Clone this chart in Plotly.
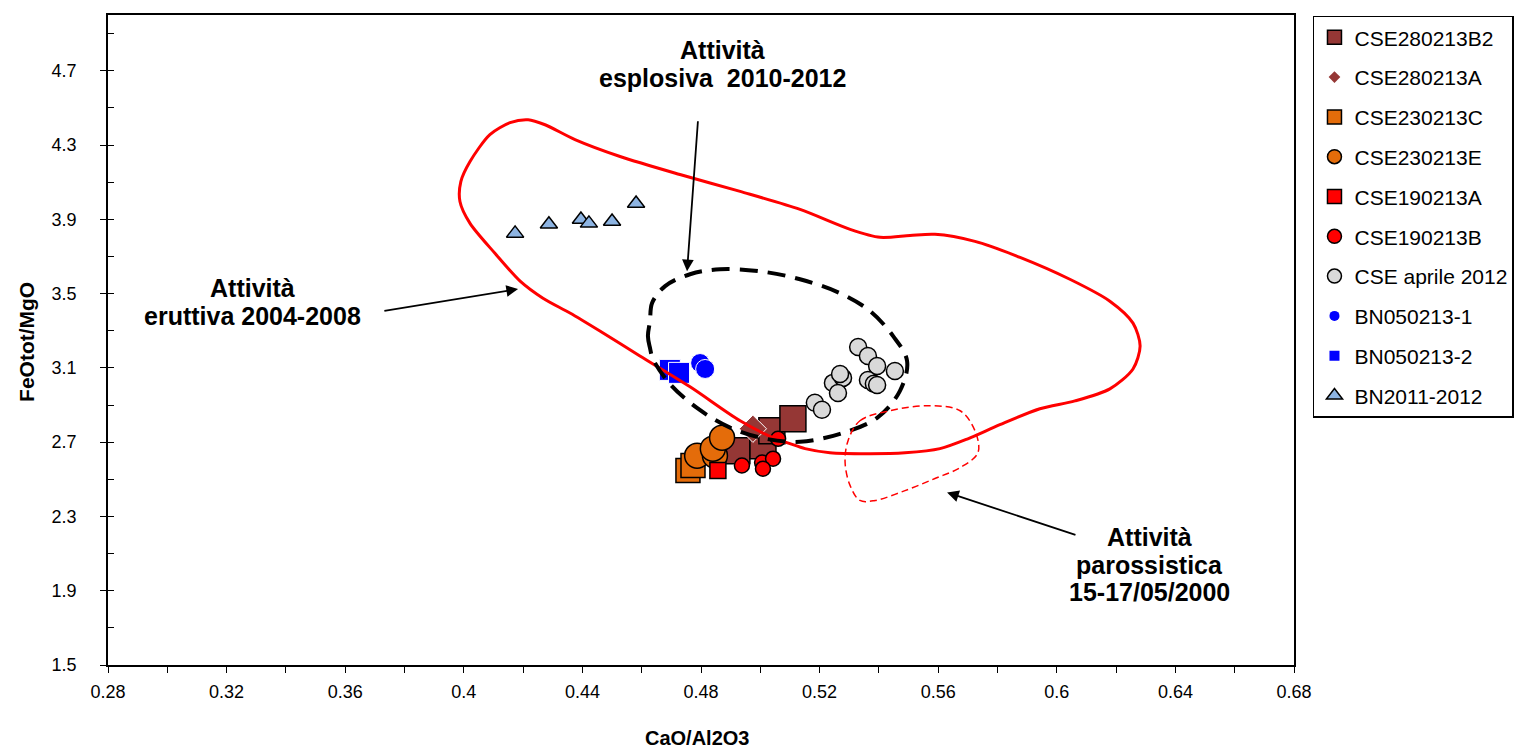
import plotly.graph_objects as go

FONT = "Liberation Sans, Arial, sans-serif"

# ---------------- data ----------------
b2_x = [0.4921, 0.5009, 0.5039, 0.5110]
b2_y = [2.654, 2.681, 2.761, 2.826]

a28_x = [0.4975]
a28_y = [2.772]

c23_x = [0.4756, 0.4773]
c23_y = [2.547, 2.574]

e23_x = [0.4787, 0.4847, 0.4840, 0.4871]
e23_y = [2.627, 2.627, 2.665, 2.724]

a19_x = [0.4857]
a19_y = [2.547]

b19_x = [0.5060, 0.5006, 0.5043, 0.5009, 0.4938]
b19_y = [2.718, 2.590, 2.611, 2.557, 2.574]

apr_x = [0.5330, 0.5363, 0.5394, 0.5454, 0.5363, 0.5383, 0.5394, 0.5245, 0.5279,
         0.5269, 0.5262, 0.5184, 0.5208]
apr_y = [3.212, 3.164, 3.110, 3.083, 3.035, 3.014, 3.008, 3.019, 3.046,
         3.067, 2.965, 2.912, 2.874]

bn1_x = [0.4797, 0.4814]
bn1_y = [3.126, 3.094]

bn2_x = [0.4695, 0.4726]
bn2_y = [3.089, 3.073]

bn11_x = [0.4173, 0.4287, 0.4395, 0.4422, 0.4500, 0.4581]
bn11_y = [3.824, 3.873, 3.899, 3.878, 3.888, 3.985]

# field outlines
erutt_x = [0.4267, 0.4190, 0.4105, 0.4021, 0.3987, 0.3990, 0.4021, 0.4088, 0.4156, 0.4217,
           0.4274, 0.4375, 0.4527, 0.4729, 0.4932, 0.5134, 0.5303, 0.5404, 0.5505, 0.5589,
           0.5724, 0.5876, 0.6044, 0.6179, 0.6257, 0.6281, 0.6257, 0.6179, 0.6061, 0.5943,
           0.5808, 0.5700, 0.5606, 0.5488, 0.5370, 0.5235, 0.5151, 0.5100, 0.5043, 0.4932,
           0.4763, 0.4594, 0.4459, 0.4358, 0.4267]
erutt_y = [3.475, 3.567, 3.717, 3.878, 3.996, 4.103, 4.211, 4.356, 4.420, 4.436,
           4.409, 4.329, 4.238, 4.141, 4.050, 3.953, 3.846, 3.803, 3.813, 3.819,
           3.781, 3.695, 3.577, 3.459, 3.341, 3.218, 3.094, 2.987, 2.922, 2.880,
           2.794, 2.718, 2.665, 2.643, 2.638, 2.643, 2.665, 2.692, 2.724, 2.815,
           2.998, 3.164, 3.298, 3.395, 3.475]

espl_x = [0.4628, 0.4621, 0.4628, 0.4638, 0.4695, 0.4790, 0.4898, 0.5016, 0.5134, 0.5269,
          0.5394, 0.5471, 0.5495, 0.5448, 0.5370, 0.5269, 0.5134, 0.4999, 0.4864, 0.4763,
          0.4679, 0.4635, 0.4628]
espl_y = [3.352, 3.271, 3.207, 3.148, 3.014, 2.880, 2.778, 2.719, 2.702, 2.745,
          2.831, 2.976, 3.137, 3.271, 3.406, 3.502, 3.577, 3.620, 3.631, 3.604,
          3.540, 3.449, 3.352]

paro_x = [0.5296, 0.5336, 0.5437, 0.5572, 0.5674, 0.5724, 0.5734, 0.5674, 0.5589, 0.5488,
          0.5387, 0.5336, 0.5303, 0.5286, 0.5296]
paro_y = [2.708, 2.815, 2.869, 2.896, 2.869, 2.761, 2.643, 2.563, 2.504, 2.439,
          2.386, 2.386, 2.466, 2.590, 2.708]

# labels of the fields (one entry per text line)
lab_text = ["Attività", "eruttiva 2004-2008",
            "Attività", "esplosiva  2010-2012",
            "Attività", "parossistica", "15-17/05/2000"]
lab_x = [0.3286, 0.3286, 0.4871, 0.4871, 0.6314, 0.6314, 0.6314]
lab_y = [3.529, 3.379, 4.812, 4.662, 2.187, 2.037, 1.892]

# arrows: tail -> head
arr_tail_x = [0.3727, 0.4790, 0.6068]
arr_tail_y = [3.406, 4.436, 2.198]
arr_head_x = [0.4183, 0.4753, 0.5630]
arr_head_y = [3.524, 3.620, 2.429]

x_ticks = [0.28, 0.32, 0.36, 0.40, 0.44, 0.48, 0.52, 0.56, 0.60, 0.64, 0.68]
x_tick_text = ["0.28", "0.32", "0.36", "0.4", "0.44", "0.48", "0.52", "0.56", "0.6", "0.64", "0.68"]
y_ticks = [1.5, 1.9, 2.3, 2.7, 3.1, 3.5, 3.9, 4.3, 4.7]
y_tick_text = ["1.5", "1.9", "2.3", "2.7", "3.1", "3.5", "3.9", "4.3", "4.7"]

# ---------------- series definitions ----------------
series = [
    # name, x, y, symbol, color, plot size, line color, line width, legend size
    ("CSE280213B2", b2_x, b2_y, "square", "#953735", 26, "black", 1.5, 14),
    ("CSE280213A", a28_x, a28_y, "diamond", "#953735", 21, "white", 1.0, 9),
    ("CSE230213C", c23_x, c23_y, "square", "#E46C0A", 24, "black", 1.5, 14),
    ("CSE230213E", e23_x, e23_y, "circle", "#E46C0A", 25, "black", 1.5, 14),
    ("CSE190213A", a19_x, a19_y, "square", "#FF0000", 16, "black", 1.5, 14),
    ("CSE190213B", b19_x, b19_y, "circle", "#FF0000", 15, "black", 1.5, 14),
    ("CSE aprile 2012", apr_x, apr_y, "circle", "#D9D9D9", 17, "black", 1.5, 14),
    ("BN050213-1", bn1_x, bn1_y, "circle", "#0000FF", 19, "white", 1.0, 10),
    ("BN050213-2", bn2_x, bn2_y, "square", "#0000FF", 21, "white", 1.0, 10),
    ("BN2011-2012", bn11_x, bn11_y, "triangle-up", "#8DB4E2", 15, "black", 1.5, 14),
]

fig = go.Figure()

# point clouds (not in legend)
for name, xs, ys, sym, col, sz, lc, lw, lsz in series:
    fig.add_trace(go.Scatter(
        x=xs, y=ys, mode="markers", name=name, showlegend=False,
        marker=dict(symbol=sym, color=col, size=sz, line=dict(color=lc, width=lw)),
    ))

# field outlines (drawn above points)
fig.add_trace(go.Scatter(x=erutt_x, y=erutt_y, mode="lines", showlegend=False,
                         line=dict(color="#FF0000", width=3, shape="spline", smoothing=0.8),
                         hoverinfo="skip"))
fig.add_trace(go.Scatter(x=espl_x, y=espl_y, mode="lines", showlegend=False,
                         line=dict(color="black", width=4, dash="18px,10px",
                                   shape="spline", smoothing=1.0),
                         hoverinfo="skip"))
fig.add_trace(go.Scatter(x=paro_x, y=paro_y, mode="lines", showlegend=False,
                         line=dict(color="#FF0000", width=1.5, dash="7px,4px",
                                   shape="spline", smoothing=1.0),
                         hoverinfo="skip"))

# legend entries
for i, (name, xs, ys, sym, col, sz, lc, lw, lsz) in enumerate(series):
    fig.add_trace(go.Scatter(
        x=[None], y=[None], mode="markers", name=name, legendgroup="g%d" % i,
        marker=dict(symbol=sym, color=col, size=lsz,
                    line=dict(color=lc, width=1.5 if lc == "black" else 0)),
    ))

annotations = []
for t, x, y in zip(lab_text, lab_x, lab_y):
    annotations.append(dict(x=x, y=y, xref="x", yref="y", text="<b>%s</b>" % t,
                            showarrow=False, xanchor="center", yanchor="middle",
                            font=dict(family=FONT, size=25, color="black")))
for tx, ty, hx, hy in zip(arr_tail_x, arr_tail_y, arr_head_x, arr_head_y):
    annotations.append(dict(x=hx, y=hy, ax=tx, ay=ty, xref="x", yref="y",
                            axref="x", ayref="y", text="", showarrow=True,
                            arrowhead=2, arrowsize=1.3, arrowwidth=1.8,
                            arrowcolor="black", standoff=0, startstandoff=0))
annotations.append(dict(x=0.4966, y=0, xref="paper", yref="paper", yshift=-73,
                        text="<b>CaO/Al2O3</b>", showarrow=False,
                        xanchor="center", yanchor="middle",
                        font=dict(family=FONT, size=20, color="black")))
annotations.append(dict(x=0, y=0.497, xref="paper", yref="paper", xshift=-81,
                        text="<b>FeOtot/MgO</b>", showarrow=False, textangle=-90,
                        xanchor="center", yanchor="middle",
                        font=dict(family=FONT, size=21, color="black")))

# the page adds an 8px body margin, so the figure is 8px smaller and margins shifted
fig.update_layout(
    width=1523, height=741,
    margin=dict(l=100, r=237, t=5, b=84),
    paper_bgcolor="white", plot_bgcolor="white",
    font=dict(family=FONT, color="black"),
    showlegend=True,
    legend=dict(x=1.016, y=0.999, xanchor="left", yanchor="top",
                bordercolor="black", borderwidth=1.5, bgcolor="white",
                font=dict(family=FONT, size=21, color="black"),
                tracegroupgap=9.5, itemsizing="trace"),
    annotations=annotations,
)

fig.update_xaxes(range=[0.28, 0.68], tickmode="array", tickvals=x_ticks, ticktext=x_tick_text,
                 showgrid=False, zeroline=False, showline=True, linecolor="black",
                 linewidth=1.5, mirror=True, ticks="outside", ticklen=6, tickwidth=1,
                 tickcolor="black", tickfont=dict(family=FONT, size=18, color="black"),
                 ticklabelstandoff=4,
                 minor=dict(dtick=0.02, tick0=0.28, ticks="outside", ticklen=6,
                            tickcolor="black", tickwidth=1, showgrid=False))
fig.update_yaxes(range=[1.5, 5.0], tickmode="array", tickvals=y_ticks, ticktext=y_tick_text,
                 showgrid=False, zeroline=False, showline=True, linecolor="black",
                 linewidth=1.5, mirror=True, ticks="outside", ticklen=6, tickwidth=1,
                 tickcolor="black", tickfont=dict(family=FONT, size=18, color="black"),
                 ticklabelstandoff=20,
                 minor=dict(dtick=0.2, tick0=1.5, ticks="inside", ticklen=6,
                            tickcolor="black", tickwidth=1, showgrid=False))

fig.write_html("out.html")
